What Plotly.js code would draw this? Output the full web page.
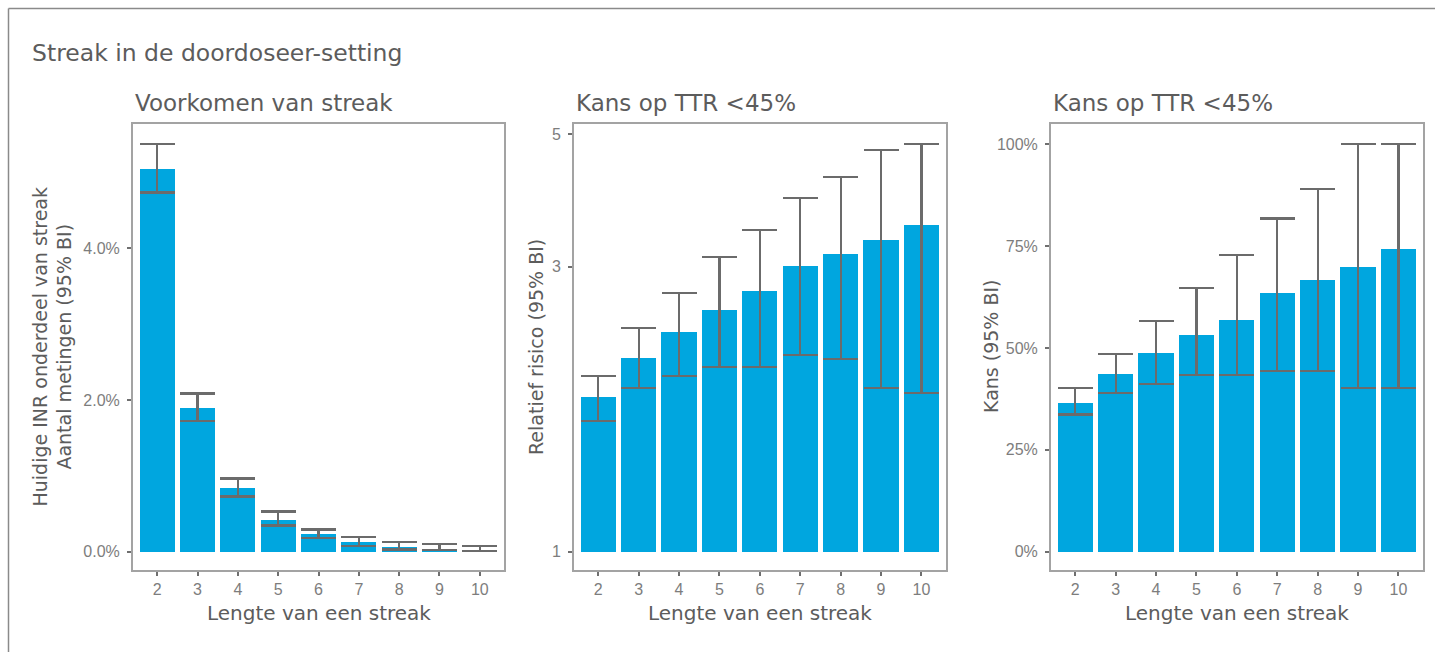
<!DOCTYPE html>
<html>
<head>
<meta charset="utf-8">
<script src="https://cdn.plot.ly/plotly-3.0.1.min.js"></script>
<style>
  html, body { margin: 0; padding: 0; background: #ffffff; }
  #chart { width: 1435px; height: 652px; }
</style>
</head>
<body>
<div id="chart"></div>
<script>
// Streak length categories shared by all three panels
const streakLengths = ['2', '3', '4', '5', '6', '7', '8', '9', '10'];

// Panel 1: share of current INR measurements that are part of a streak (fraction)
const occurrence      = [0.05045, 0.01894, 0.00840, 0.00418, 0.00233, 0.00128, 0.00058, 0.00040, 0.00026];
const occurrenceLower = [0.04738, 0.01723, 0.00730, 0.00348, 0.00181, 0.00079, 0.00031, 0.00022, 0.00013];
const occurrenceUpper = [0.05375, 0.02088, 0.00967, 0.00532, 0.00295, 0.00198, 0.00128, 0.00100, 0.00075];

// Panel 2: relative risk of TTR < 45%
const relRisk      = [1.818, 2.111, 2.333, 2.540, 2.734, 3.010, 3.153, 3.327, 3.526];
const relRiskLower = [1.655, 1.878, 1.972, 2.039, 2.039, 2.135, 2.105, 1.878, 1.844];
const relRiskUpper = [1.970, 2.367, 2.716, 3.112, 3.458, 3.917, 4.248, 4.709, 4.813];

// Panel 3: probability of TTR < 45%
const prob      = [0.365, 0.436, 0.487, 0.531, 0.570, 0.635, 0.667, 0.699, 0.743];
const probLower = [0.337, 0.390, 0.412, 0.433, 0.433, 0.443, 0.443, 0.402, 0.402];
const probUpper = [0.401, 0.485, 0.567, 0.648, 0.7275, 0.818, 0.8895, 1.000, 1.000];

// Tick labels
const occTicks  = [0, 0.02, 0.04];
const rrTicks   = [1, 3, 5];
const rrLabels  = ['1', '3', '5'];
const probTicks = [0, 0.25, 0.5, 0.75, 1];

// Text
const mainTitle   = 'Streak in de doordoseer-setting';
const panelTitles = ['Voorkomen van streak', 'Kans op TTR <45%', 'Kans op TTR <45%'];
const xTitle      = 'Lengte van een streak';
const yTitles     = ['Huidige INR onderdeel van streak<br>Aantal metingen (95% BI)',
                     'Relatief risico (95% BI)', 'Kans (95% BI)'];

const W = 1435, H = 652;
const BAR = '#00a6df';
const ERR = '#6b6b6b';
const TITLE_COL = '#5c5c5c';
const TICK_COL = '#7d7d7d';
const FRAME_COL = '#a3a3a3';

const px = v => v / W;
const py = v => 1 - v / H;

// Plot frames in pixels (left, right)
const frames = [[133, 504], [574, 945.7], [1051, 1422.7]];
const frameTop = 124, frameBottom = 570;

function errTrace(vals, lo, hi) {
  return {
    type: 'data', symmetric: false,
    array: hi.map((h, i) => h - vals[i]),
    arrayminus: lo.map((l, i) => vals[i] - l),
    color: ERR, thickness: 2.2, width: 17.5
  };
}

const traces = [
  {
    type: 'bar', x: streakLengths, y: occurrence,
    marker: { color: BAR }, width: 0.87,
    error_y: errTrace(occurrence, occurrenceLower, occurrenceUpper),
    xaxis: 'x', yaxis: 'y', hoverinfo: 'x+y'
  },
  {
    // bars on the log axis start at a relative risk of 1
    type: 'bar', x: streakLengths, y: relRisk.map(v => v - 1), base: 1,
    marker: { color: BAR }, width: 0.87,
    error_y: errTrace(relRisk, relRiskLower, relRiskUpper),
    xaxis: 'x2', yaxis: 'y2', hoverinfo: 'x'
  },
  {
    type: 'bar', x: streakLengths, y: prob,
    marker: { color: BAR }, width: 0.87,
    error_y: errTrace(prob, probLower, probUpper),
    xaxis: 'x3', yaxis: 'y3', hoverinfo: 'x+y'
  }
];

const tickFont = { family: 'Liberation Sans, Arial, sans-serif', size: 16, color: TICK_COL };

function xAxis(i) {
  return {
    domain: [px(frames[i][0]), px(frames[i][1])],
    anchor: ['y', 'y2', 'y3'][i],
    type: 'category', range: [-0.6, 8.6],
    showline: true, mirror: true, linecolor: FRAME_COL, linewidth: 2,
    ticks: 'outside', ticklen: 4, tickwidth: 2, tickcolor: '#6f6f6f',
    showgrid: false, zeroline: false, tickfont: tickFont,
    fixedrange: true
  };
}
function yAxis(i, extra) {
  return Object.assign({
    domain: [py(frameBottom), py(frameTop)],
    anchor: ['x', 'x2', 'x3'][i],
    showline: true, mirror: true, linecolor: FRAME_COL, linewidth: 2,
    ticks: 'outside', ticklen: 4, tickwidth: 2, tickcolor: '#6f6f6f',
    showgrid: false, zeroline: false, tickfont: tickFont,
    ticklabelstandoff: 4, fixedrange: true
  }, extra);
}

const titleFont = { family: 'DejaVu Sans, sans-serif', color: TITLE_COL };

const annotations = [
  { text: mainTitle, x: px(30), y: py(53), xanchor: 'left', yanchor: 'middle',
    font: Object.assign({ size: 23.5 }, titleFont) }
];
panelTitles.forEach((t, i) => annotations.push({
  text: t, x: px(frames[i][0]), y: py(103), xanchor: 'left', yanchor: 'middle',
  font: Object.assign({ size: 23 }, titleFont)
}));
frames.forEach((f, i) => annotations.push({
  text: xTitle, x: px((f[0] + f[1]) / 2), y: py(612.5), xanchor: 'center', yanchor: 'middle',
  font: Object.assign({ size: 20 }, titleFont)
}));
const yTitleX = [51.5, 536, 991];
yTitles.forEach((t, i) => annotations.push({
  text: t, x: px(yTitleX[i]), y: py((frameTop + frameBottom) / 2), textangle: -90,
  xanchor: 'center', yanchor: 'middle',
  font: Object.assign({ size: 19 }, titleFont)
}));
annotations.forEach(a => { a.xref = 'paper'; a.yref = 'paper'; a.showarrow = false; });

const layout = {
  width: W, height: H,
  margin: { l: 0, r: 0, t: 0, b: 0 },
  paper_bgcolor: '#ffffff', plot_bgcolor: '#ffffff',
  showlegend: false, bargap: 0,
  xaxis: xAxis(0), xaxis2: xAxis(1), xaxis3: xAxis(2),
  yaxis: yAxis(0, { range: [-0.0024, 0.0564], tickvals: occTicks, tickformat: '.1%' }),
  yaxis2: yAxis(1, { type: 'log', range: [-0.0307, 0.7164], tickvals: rrTicks, ticktext: rrLabels }),
  yaxis3: yAxis(2, { range: [-0.045, 1.05], tickvals: probTicks, tickformat: '.0%' }),
  annotations: annotations,
  shapes: [
    // outer border along the left and top edge
    { type: 'line', xref: 'paper', yref: 'paper', x0: px(8.5), x1: px(8.5), y0: 0, y1: py(8.5),
      line: { color: '#8a8a8a', width: 1.5 } },
    { type: 'line', xref: 'paper', yref: 'paper', x0: px(8.5), x1: 1, y0: py(8.5), y1: py(8.5),
      line: { color: '#8a8a8a', width: 1.5 } }
  ]
};

Plotly.newPlot('chart', traces, layout, { staticPlot: true, displayModeBar: false });
</script>
</body>
</html>
